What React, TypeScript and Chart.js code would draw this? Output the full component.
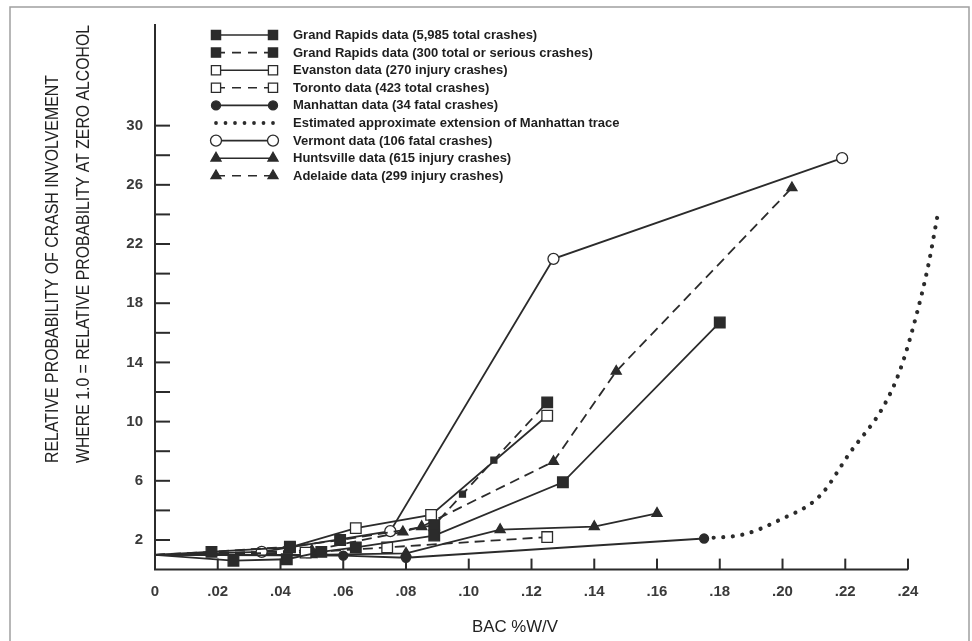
import React, { useEffect, useRef } from 'react';
import { Chart, registerables } from 'chart.js';

Chart.register(...registerables);

const INK = '#2b2b2b';

// ---- axis ticks ----
const xTicks = [0, 0.02, 0.04, 0.06, 0.08, 0.1, 0.12, 0.14, 0.16, 0.18, 0.2, 0.22, 0.24];
const yTicks = [0, 2, 4, 6, 8, 10, 12, 14, 16, 18, 20, 22, 24, 26, 28, 30];
const yLabelValues = [2, 6, 10, 14, 18, 22, 26, 30];

// ---- series (BAC %W/V -> relative probability) ----
const grTotalBac = [0, 0.025, 0.042, 0.053, 0.064, 0.089, 0.13, 0.18];
const grTotalRel = [1.0, 0.6, 0.7, 1.2, 1.5, 2.3, 5.9, 16.7];

const grSeriousBac = [0, 0.018, 0.043, 0.059, 0.089, 0.098, 0.108, 0.125];
const grSeriousRel = [1.0, 1.2, 1.55, 2.0, 3.0, 5.1, 7.4, 11.3];

const evanstonBac = [0, 0.043, 0.064, 0.088, 0.125];
const evanstonRel = [1.0, 1.5, 2.8, 3.7, 10.4];

const torontoBac = [0, 0.048, 0.074, 0.125];
const torontoRel = [1.0, 1.15, 1.5, 2.2];

const manhattanBac = [0, 0.06, 0.08, 0.175];
const manhattanRel = [1.0, 0.95, 0.8, 2.1];

const extensionBac = [0.175, 0.188, 0.199, 0.212, 0.2215, 0.2321, 0.2375, 0.2428, 0.2465, 0.2493];
const extensionRel = [2.1, 2.4, 3.35, 5.0, 7.9, 11.0, 13.5, 17.3, 20.6, 23.8];

const vermontBac = [0, 0.034, 0.075, 0.127, 0.219];
const vermontRel = [1.0, 1.2, 2.6, 21.0, 27.8];

const huntsvilleBac = [0, 0.05, 0.08, 0.11, 0.14, 0.16];
const huntsvilleRel = [1.0, 1.0, 1.1, 2.7, 2.9, 3.8];

const adelaideBac = [0, 0.05, 0.079, 0.085, 0.127, 0.147, 0.203];
const adelaideRel = [1.0, 1.3, 2.55, 2.9, 7.3, 13.4, 25.8];

const seriesLabels = [
  'Grand Rapids data (5,985 total crashes)',
  'Grand Rapids data (300 total or serious crashes)',
  'Evanston data (270 injury crashes)',
  'Toronto data (423 total crashes)',
  'Manhattan data (34 fatal crashes)',
  'Estimated approximate extension of Manhattan trace',
  'Vermont data (106 fatal crashes)',
  'Huntsville data (615 injury crashes)',
  'Adelaide data (299 injury crashes)',
];

const yTitleLines = [
  'RELATIVE PROBABILITY OF CRASH INVOLVEMENT',
  'WHERE 1.0 = RELATIVE PROBABILITY AT ZERO ALCOHOL',
];
const xTitle = 'BAC %W/V';

type Style = {
  line: 'solid' | 'dashed' | 'dotted';
  marker: 'rect' | 'circle' | 'triangle' | null;
  fill: string;
  r: number;
};

const DASH = [10, 6];

const styles: Style[] = [
  { line: 'solid', marker: 'rect', fill: INK, r: 7.5 },
  { line: 'dashed', marker: 'rect', fill: INK, r: 7.5 },
  { line: 'solid', marker: 'rect', fill: '#ffffff', r: 7.5 },
  { line: 'dashed', marker: 'rect', fill: '#ffffff', r: 7.5 },
  { line: 'solid', marker: 'circle', fill: INK, r: 4.5 },
  { line: 'dotted', marker: null, fill: INK, r: 0 },
  { line: 'solid', marker: 'circle', fill: '#ffffff', r: 5.5 },
  { line: 'solid', marker: 'triangle', fill: INK, r: 5.8 },
  { line: 'dashed', marker: 'triangle', fill: INK, r: 5.8 },
];

const seriesData = [
  [grTotalBac, grTotalRel],
  [grSeriousBac, grSeriousRel],
  [evanstonBac, evanstonRel],
  [torontoBac, torontoRel],
  [manhattanBac, manhattanRel],
  [extensionBac, extensionRel],
  [vermontBac, vermontRel],
  [huntsvilleBac, huntsvilleRel],
  [adelaideBac, adelaideRel],
];

function toPoints(xs: number[], ys: number[]) {
  return xs.map((x, i) => ({ x, y: ys[i] }));
}

function markerPath(ctx: CanvasRenderingContext2D, marker: string, x: number, y: number, r: number) {
  ctx.beginPath();
  if (marker === 'rect') {
    const s = r * Math.SQRT1_2;
    ctx.rect(x - s, y - s, 2 * s, 2 * s);
  } else if (marker === 'circle') {
    ctx.arc(x, y, r, 0, Math.PI * 2);
  } else if (marker === 'triangle') {
    let a = 0;
    ctx.moveTo(x + Math.sin(a) * r, y - Math.cos(a) * r);
    a += (2 * Math.PI) / 3;
    ctx.lineTo(x + Math.sin(a) * r, y - Math.cos(a) * r);
    a += (2 * Math.PI) / 3;
    ctx.lineTo(x + Math.sin(a) * r, y - Math.cos(a) * r);
    ctx.closePath();
  }
}

function fittedText(
  ctx: CanvasRenderingContext2D,
  text: string,
  x: number,
  y: number,
  len: number,
  rotate: boolean,
  align: 'left' | 'center'
) {
  ctx.save();
  ctx.translate(x, y);
  if (rotate) ctx.rotate(-Math.PI / 2);
  const w = ctx.measureText(text).width;
  ctx.scale(len / w, 1);
  ctx.textAlign = align;
  ctx.textBaseline = 'middle';
  ctx.fillText(text, 0, 0);
  ctx.restore();
}

const decorPlugin = {
  id: 'decor',
  beforeDraw(chart: any) {
    const { ctx, width, height } = chart;
    ctx.save();
    ctx.fillStyle = '#ffffff';
    ctx.fillRect(0, 0, width, height);
    ctx.restore();
  },
  afterDraw(chart: any) {
    const { ctx, chartArea } = chart;
    const xs = chart.scales.x;
    const ys = chart.scales.y;
    ctx.save();
    ctx.strokeStyle = INK;
    ctx.lineWidth = 2;
    ctx.setLineDash([]);
    // x axis line (ends at .24)
    const xEnd = xs.getPixelForValue(0.24);
    ctx.beginPath();
    ctx.moveTo(chartArea.left - 1, chartArea.bottom);
    ctx.lineTo(xEnd, chartArea.bottom);
    ctx.stroke();
    // y ticks (inside)
    for (const v of yTicks) {
      if (v === 0) continue;
      const py = ys.getPixelForValue(v);
      ctx.beginPath();
      ctx.moveTo(chartArea.left, py);
      ctx.lineTo(chartArea.left + 15, py);
      ctx.stroke();
    }
    // x ticks (upward)
    for (const v of xTicks) {
      if (v === 0) continue;
      const px = xs.getPixelForValue(v);
      ctx.beginPath();
      ctx.moveTo(px, chartArea.bottom);
      ctx.lineTo(px, chartArea.bottom - 11);
      ctx.stroke();
    }
    // outer frame
    ctx.strokeStyle = '#a0a0a0';
    ctx.lineWidth = 1.5;
    ctx.beginPath();
    ctx.moveTo(10, 641);
    ctx.lineTo(10, 7);
    ctx.lineTo(969, 7);
    ctx.lineTo(969, 641);
    ctx.stroke();

    // axis titles
    ctx.fillStyle = '#222222';
    ctx.font = '18px "Liberation Sans", Arial, sans-serif';
    fittedText(ctx, yTitleLines[0], 53, 463, 388, true, 'left');
    fittedText(ctx, yTitleLines[1], 84, 463, 438, true, 'left');
    ctx.font = '16px "Liberation Sans", Arial, sans-serif';
    fittedText(ctx, xTitle, 515, 628, 86, false, 'center');

    // legend
    const x1 = 216;
    const x2 = 273;
    const rowY0 = 35;
    const rowH = 17.6;
    ctx.font = 'bold 13px "Liberation Sans", Arial, sans-serif';
    seriesLabels.forEach((label, i) => {
      const st = styles[i];
      const y = rowY0 + i * rowH;
      ctx.strokeStyle = INK;
      if (st.line === 'dotted') {
        ctx.fillStyle = INK;
        for (let k = 0; k < 7; k++) {
          ctx.beginPath();
          ctx.arc(x1 + (k * (x2 - x1)) / 6, y, 1.9, 0, Math.PI * 2);
          ctx.fill();
        }
      } else {
        ctx.lineWidth = 1.6;
        ctx.setLineDash(st.line === 'dashed' ? [9, 7] : []);
        ctx.beginPath();
        ctx.moveTo(x1, y);
        ctx.lineTo(x2, y);
        ctx.stroke();
        ctx.setLineDash([]);
        if (st.marker) {
          const r = st.marker === 'rect' ? 6.5 : st.r;
          for (const mx of [x1, x2]) {
            markerPath(ctx, st.marker, mx, y, r);
            ctx.fillStyle = st.fill;
            ctx.fill();
            ctx.lineWidth = 1.3;
            ctx.stroke();
          }
        }
      }
      ctx.fillStyle = '#1e1e1e';
      ctx.textAlign = 'left';
      ctx.textBaseline = 'middle';
      ctx.fillText(label, 293, y + 0.5);
    });
    ctx.restore();
  },
};

function fmtX(v: number) {
  if (v === 0) return '0';
  return v.toFixed(2).replace(/^0/, '');
}

export default function App() {
  const canvasRef = useRef<HTMLCanvasElement | null>(null);

  useEffect(() => {
    const canvas = canvasRef.current;
    if (!canvas) return;
    const datasets = seriesData.map(([xs, ys], i) => {
      const st = styles[i];
      return {
        label: seriesLabels[i],
        data: toPoints(xs, ys),
        borderColor: INK,
        backgroundColor: st.fill,
        borderWidth: st.line === 'dotted' ? 4.2 : 1.8,
        borderDash: st.line === 'dashed' ? DASH : st.line === 'dotted' ? [0.01, 9.6] : [],
        borderCapStyle: st.line === 'dotted' ? 'round' : 'butt',
        cubicInterpolationMode: st.line === 'dotted' ? 'monotone' : 'default',
        tension: 0,
        pointStyle: st.marker || 'circle',
        pointRadius: (c: any) => {
          if (!st.marker || !c.raw || c.raw.x === 0) return 0;
          // the two intermediate Grand Rapids (serious) marks are printed small
          if (i === 1 && c.raw.x > 0.09 && c.raw.x < 0.12) return 4.2;
          return st.r;
        },
        pointHoverRadius: 0,
        pointBackgroundColor: st.fill,
        pointBorderColor: INK,
        pointBorderWidth: 1.3,
        clip: false,
        fill: false,
      };
    });

    const tickFont = { family: '"Liberation Sans", Arial, sans-serif', size: 15, weight: 'bold' as const };

    const chart = new Chart(canvas, {
      type: 'line',
      data: { datasets: datasets as any },
      options: {
        animation: false,
        responsive: false,
        devicePixelRatio: 1,
        events: [],
        layout: { padding: { left: 0, top: 25, right: 32.6, bottom: 0 } },
        plugins: {
          legend: { display: false },
          tooltip: { enabled: false },
          title: { display: false },
        },
        scales: {
          x: {
            type: 'linear',
            min: 0,
            max: 0.25,
            afterBuildTicks: (s: any) => {
              s.ticks = xTicks.map((v) => ({ value: v }));
            },
            afterFit: (s: any) => {
              s.height = 71.4;
            },
            grid: { display: false, drawTicks: false },
            border: { display: false },
            ticks: {
              autoSkip: false,
              maxRotation: 0,
              padding: 13,
              color: '#3a3a3a',
              font: tickFont,
              callback: (v: any) => fmtX(Number(v)),
            },
          },
          y: {
            type: 'linear',
            min: 0,
            max: 36.8,
            afterBuildTicks: (s: any) => {
              s.ticks = yTicks.map((v) => ({ value: v }));
            },
            afterFit: (s: any) => {
              s.width = 155;
            },
            grid: { display: false, drawTicks: false },
            border: { display: true, color: INK, width: 2 },
            ticks: {
              autoSkip: false,
              padding: 12,
              color: '#3a3a3a',
              font: tickFont,
              callback: (v: any) => (yLabelValues.includes(Number(v)) ? String(v) : ''),
            },
          },
        },
      },
      plugins: [decorPlugin],
    });
    return () => chart.destroy();
  }, []);

  return (
    <div style={{ position: 'fixed', left: 0, top: 0, width: 972, height: 641, background: '#fff' }}>
      <canvas ref={canvasRef} width={972} height={641} style={{ width: 972, height: 641, display: 'block' }} />
    </div>
  );
}
